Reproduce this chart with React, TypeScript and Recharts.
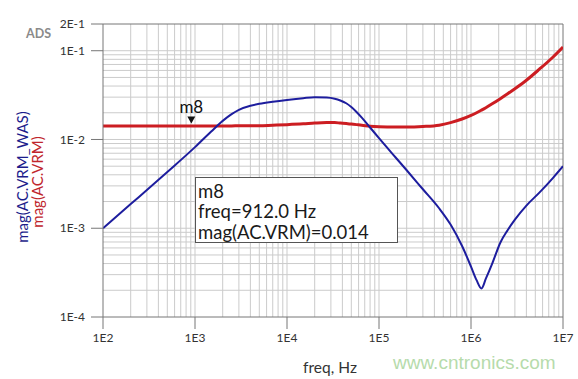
import React from 'react';
import { LineChart, Line, XAxis, YAxis, ReferenceLine, ReferenceDot } from 'recharts';

// frequency points (Hz)
const freqHz = [100, 200, 500, 1000, 1500, 2000, 2500, 3000, 4000, 5000, 7000, 10000, 15000, 20000, 27000, 33000, 38000, 44000, 50000, 57000, 65000, 80000, 100000, 150000, 200000, 300000, 450000, 600000, 800000, 1000000, 1150000, 1300000, 1450000, 1700000, 2100000, 2500000, 3000000, 4000000, 5500000, 7800000, 10000000];
// mag(AC.VRM_WAS) - blue
const vrmWas = [0.001, 0.00187, 0.0043, 0.0082, 0.0123, 0.0162, 0.0193, 0.0216, 0.024, 0.0252, 0.0266, 0.0279, 0.0292, 0.0299, 0.0297, 0.0288, 0.0275, 0.0256, 0.0232, 0.0204, 0.0176, 0.01365, 0.01035, 0.00635, 0.0045, 0.00275, 0.00168, 0.0011, 0.00063, 0.00037, 0.00026, 0.00021, 0.00027, 0.0004, 0.0007, 0.00095, 0.00125, 0.0018, 0.0025, 0.0037, 0.005];
// mag(AC.VRM) - red
const vrm = [0.0142, 0.0142, 0.0142, 0.0142, 0.0142, 0.0142, 0.0142, 0.0143, 0.0143, 0.0143, 0.0145, 0.0147, 0.015, 0.0153, 0.0155, 0.0155, 0.0153, 0.0151, 0.0149, 0.0147, 0.0145, 0.0141, 0.0139, 0.0138, 0.0138, 0.014, 0.0145, 0.0155, 0.017, 0.0187, 0.02, 0.0214, 0.0228, 0.0252, 0.029, 0.0327, 0.0373, 0.0465, 0.0615, 0.085, 0.11];

const xTicks = [100, 1000, 10000, 100000, 1000000, 10000000];
const yTicks = [0.0001, 0.001, 0.01, 0.1, 0.2];
const xGrid = [2e2, 3e2, 4e2, 5e2, 6e2, 7e2, 8e2, 9e2, 1e3, 2e3, 3e3, 4e3, 5e3, 6e3, 7e3, 8e3, 9e3, 1e4, 2e4, 3e4, 4e4, 5e4, 6e4, 7e4, 8e4, 9e4, 1e5, 2e5, 3e5, 4e5, 5e5, 6e5, 7e5, 8e5, 9e5, 1e6, 2e6, 3e6, 4e6, 5e6, 6e6, 7e6, 8e6, 9e6];
const yGrid = [2e-4, 3e-4, 4e-4, 5e-4, 6e-4, 7e-4, 8e-4, 9e-4, 1e-3, 2e-3, 3e-3, 4e-3, 5e-3, 6e-3, 7e-3, 8e-3, 9e-3, 1e-2, 2e-2, 3e-2, 4e-2, 5e-2, 6e-2, 7e-2, 8e-2, 9e-2, 1e-1];

const markerName = 'm8';
const markerFreq = 912;
const markerMag = 0.014;
const markerLines = ['m8', 'freq=912.0 Hz', 'mag(AC.VRM)=0.014'];

const data = freqHz.map((f, i) => ({ f, was: vrmWas[i], vrm: vrm[i] }));

const fmt = (v: number) => {
  const e = Math.floor(Math.log10(v) + 1e-9);
  const m = Math.round(v / Math.pow(10, e));
  return `${m}E${e}`;
};

const FONT = 'Lato, "Open Sans", sans-serif';
const GRID = '#cbcbcb';

const MarkerShape = (props: any) => {
  const { cx, cy } = props;
  return (
    <g>
      <polygon points={`${cx - 4},${cy - 10} ${cx + 4},${cy - 10} ${cx},${cy - 3}`} fill="#111" />
      <text x={cx} y={cy - 14} textAnchor="middle" fontSize={17} fontFamily={FONT} fill="#111">{markerName}</text>
    </g>
  );
};

export default function App() {
  return (
    <div style={{ position: 'absolute', left: 0, top: 0, width: 578, height: 379, background: '#fff' }}>
      <LineChart width={578} height={379} data={data} margin={{ top: 24, right: 15, bottom: 0, left: 0 }}>
        <XAxis
          dataKey="f"
          type="number"
          scale="log"
          domain={[100, 10000000]}
          allowDataOverflow
          ticks={xTicks}
          tickFormatter={fmt}
          height={62}
          tickSize={12}
          tickMargin={4}
          stroke="#777"
          tick={{ fill: '#333', fontSize: 12, fontFamily: FONT }}
        />
        <YAxis
          type="number"
          scale="log"
          domain={[0.0001, 0.2]}
          allowDataOverflow
          ticks={yTicks}
          tickFormatter={fmt}
          width={103}
          tickSize={12}
          tickMargin={6}
          stroke="#777"
          tick={{ fill: '#333', fontSize: 12, fontFamily: FONT }}
        />
        {xGrid.map((v) => (
          <ReferenceLine key={'x' + v} x={v} stroke={GRID} strokeWidth={1} />
        ))}
        {yGrid.map((v) => (
          <ReferenceLine key={'y' + v} y={v} stroke={GRID} strokeWidth={1} />
        ))}
        <ReferenceLine y={0.2} stroke="#777" />
        <ReferenceLine x={10000000} stroke="#777" />
        <Line dataKey="vrm" type="monotone" stroke="#cc1d22" strokeWidth={3} dot={false} isAnimationActive={false} />
        <Line dataKey="was" type="monotone" stroke="#1d1d9e" strokeWidth={2} dot={false} isAnimationActive={false} />
        <ReferenceDot x={markerFreq} y={markerMag} shape={MarkerShape} />
      </LineChart>
      <svg width={578} height={379} style={{ position: 'absolute', left: 0, top: 0, pointerEvents: 'none' }}>
        <text x={26} y={38} fontSize={12.5} fontWeight="bold" fontFamily={FONT} fill="#8a8a8a">ADS</text>
        <text transform="translate(28,177) rotate(-90)" textAnchor="middle" fontSize={15} fontFamily={FONT} fill="#1d1d8c">mag(AC.VRM_WAS)</text>
        <text transform="translate(43,182) rotate(-90)" textAnchor="middle" fontSize={15} fontFamily={FONT} fill="#c0262c">mag(AC.VRM)</text>
        <text x={330} y={373} textAnchor="middle" fontSize={15.5} fontFamily={FONT} fill="#333">freq, Hz</text>
        <text x={393} y={369} fontSize={19} fontFamily='"Liberation Sans", Arial, sans-serif' fill="#b6dbab">www.cntronics.com</text>
        <rect x={195.5} y={177.5} width={202} height={65} fill="#fff" stroke="#555" strokeWidth={1} />
        {markerLines.map((t, i) => (
          <text key={i} x={198} y={198 + i * 20.3} fontSize={18.5} fontFamily={FONT} fill="#1a1a1a">{t}</text>
        ))}
      </svg>
    </div>
  );
}
